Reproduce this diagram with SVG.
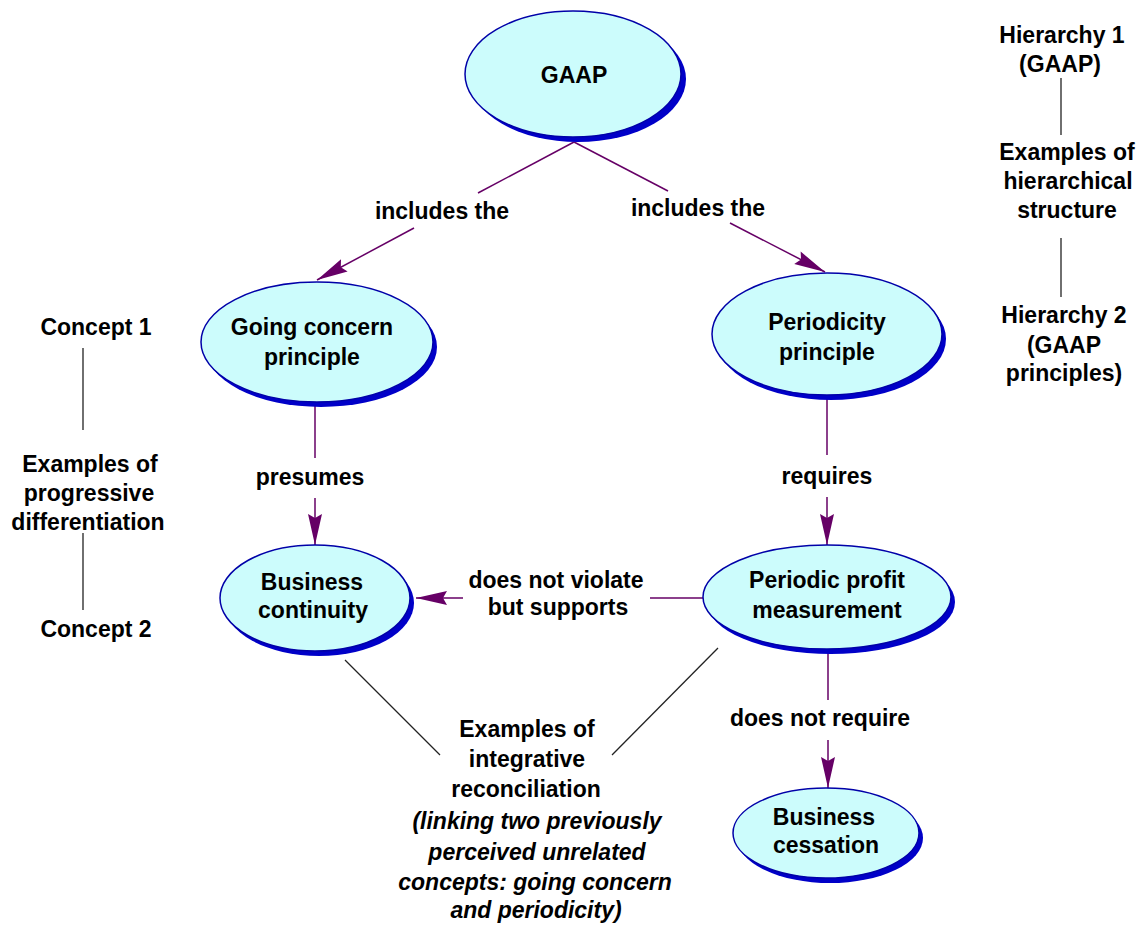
<svg xmlns="http://www.w3.org/2000/svg" width="1143" height="926" viewBox="0 0 1143 926">
  <style>
    text { font-family: "Liberation Sans", Arial, sans-serif; font-weight: bold; font-size: 23px; fill: #000; text-anchor: middle; }
    .it { font-style: italic; }
    .shadow { fill: #0000c8; stroke: none; }
    .shape { fill: #ccfcfc; stroke: #0000a8; stroke-width: 1.5; }
    .link { stroke: #660066; stroke-width: 1.5; fill: none; }
    .note { stroke: #222; stroke-width: 1.3; fill: none; }
  </style>
  <defs>
    <marker id="head" markerUnits="userSpaceOnUse" viewBox="-33 -8 34 16" refX="0" refY="0" markerWidth="34" markerHeight="16" orient="auto">
      <path d="M0,0 L-31,-7 L-27,0 L-31,7 Z" fill="#660066"/>
    </marker>
  </defs>
  <rect width="1143" height="926" fill="#fff"/>

  <!-- connectors -->
  <g id="connectors">
    <line class="link" x1="574" y1="142" x2="478" y2="193"/>
    <line class="link" x1="414" y1="228" x2="317" y2="280" marker-end="url(#head)"/>
    <line class="link" x1="574" y1="142" x2="668" y2="191"/>
    <line class="link" x1="730" y1="223" x2="825" y2="272" marker-end="url(#head)"/>
    <line class="link" x1="315" y1="402" x2="315" y2="458"/>
    <line class="link" x1="315" y1="498" x2="315" y2="545" marker-end="url(#head)"/>
    <line class="link" x1="827" y1="397" x2="827" y2="455"/>
    <line class="link" x1="827" y1="497" x2="827" y2="545" marker-end="url(#head)"/>
    <line class="link" x1="703" y1="598" x2="650" y2="598"/>
    <line class="link" x1="463" y1="598" x2="416" y2="598" marker-end="url(#head)"/>
    <line class="link" x1="828" y1="650" x2="828" y2="700"/>
    <line class="link" x1="828" y1="740" x2="828" y2="788" marker-end="url(#head)"/>
    <!-- annotation leader lines -->
    <line class="note" x1="345" y1="660" x2="440" y2="755"/>
    <line class="note" x1="718" y1="648" x2="612" y2="755"/>
    <line class="note" x1="83" y1="348" x2="83" y2="430"/>
    <line class="note" x1="83" y1="533" x2="83" y2="610"/>
    <line class="note" x1="1061" y1="78" x2="1061" y2="135"/>
    <line class="note" x1="1061" y1="238" x2="1061" y2="297"/>
    <!-- link labels -->
    <text x="442" y="219">includes the</text>
    <text x="698" y="216">includes the</text>
    <text x="310" y="485">presumes</text>
    <text x="827" y="484">requires</text>
    <text x="556" y="588">does not violate</text>
    <text x="558" y="615">but supports</text>
    <text x="820" y="726">does not require</text>
  </g>

  <g id="gaap">
    <ellipse class="shadow" cx="578" cy="79" rx="108" ry="63"/>
    <ellipse class="shape" cx="573" cy="74" rx="108" ry="63"/>
    <text x="574" y="83">GAAP</text>
  </g>
  <g id="going-concern">
    <ellipse class="shadow" cx="321" cy="347" rx="116" ry="60"/>
    <ellipse class="shape" cx="317" cy="342" rx="116" ry="60"/>
    <text x="312" y="335">Going concern</text>
    <text x="312" y="365">principle</text>
  </g>
  <g id="periodicity">
    <ellipse class="shadow" cx="831" cy="339" rx="115" ry="61"/>
    <ellipse class="shape" cx="827" cy="334" rx="115" ry="61"/>
    <text x="827" y="330">Periodicity</text>
    <text x="827" y="360">principle</text>
  </g>
  <g id="business-continuity">
    <ellipse class="shadow" cx="319" cy="603" rx="95" ry="53"/>
    <ellipse class="shape" cx="315" cy="598" rx="95" ry="53"/>
    <text x="312" y="590">Business</text>
    <text x="313" y="618">continuity</text>
  </g>
  <g id="periodic-profit">
    <ellipse class="shadow" cx="831" cy="602" rx="124" ry="52"/>
    <ellipse class="shape" cx="827" cy="597" rx="124" ry="52"/>
    <text x="827" y="588">Periodic profit</text>
    <text x="827" y="618">measurement</text>
  </g>
  <g id="business-cessation">
    <ellipse class="shadow" cx="830" cy="838" rx="93" ry="45"/>
    <ellipse class="shape" cx="826" cy="833" rx="93" ry="45"/>
    <text x="824" y="825">Business</text>
    <text x="826" y="853">cessation</text>
  </g>

  <g id="hierarchy-1">
    <text x="1062" y="43">Hierarchy 1</text>
    <text x="1060" y="72">(GAAP)</text>
  </g>
  <g id="hierarchical-structure">
    <text x="1067" y="160">Examples of</text>
    <text x="1068" y="189">hierarchical</text>
    <text x="1067" y="218">structure</text>
  </g>
  <g id="hierarchy-2">
    <text x="1064" y="323">Hierarchy 2</text>
    <text x="1064" y="353">(GAAP</text>
    <text x="1064" y="381">principles)</text>
  </g>
  <g id="concept-1">
    <text x="96" y="335">Concept 1</text>
  </g>
  <g id="progressive-differentiation">
    <text x="90" y="472">Examples of</text>
    <text x="89" y="501">progressive</text>
    <text x="88" y="530">differentiation</text>
  </g>
  <g id="concept-2">
    <text x="96" y="637">Concept 2</text>
  </g>
  <g id="integrative-reconciliation">
    <text x="527" y="737">Examples of</text>
    <text x="527" y="767">integrative</text>
    <text x="526" y="797">reconciliation</text>
    <text class="it" x="537" y="829">(linking two previously</text>
    <text class="it" x="537" y="860">perceived unrelated</text>
    <text class="it" x="535" y="890">concepts: going concern</text>
    <text class="it" x="536" y="918">and periodicity)</text>
  </g>
</svg>
